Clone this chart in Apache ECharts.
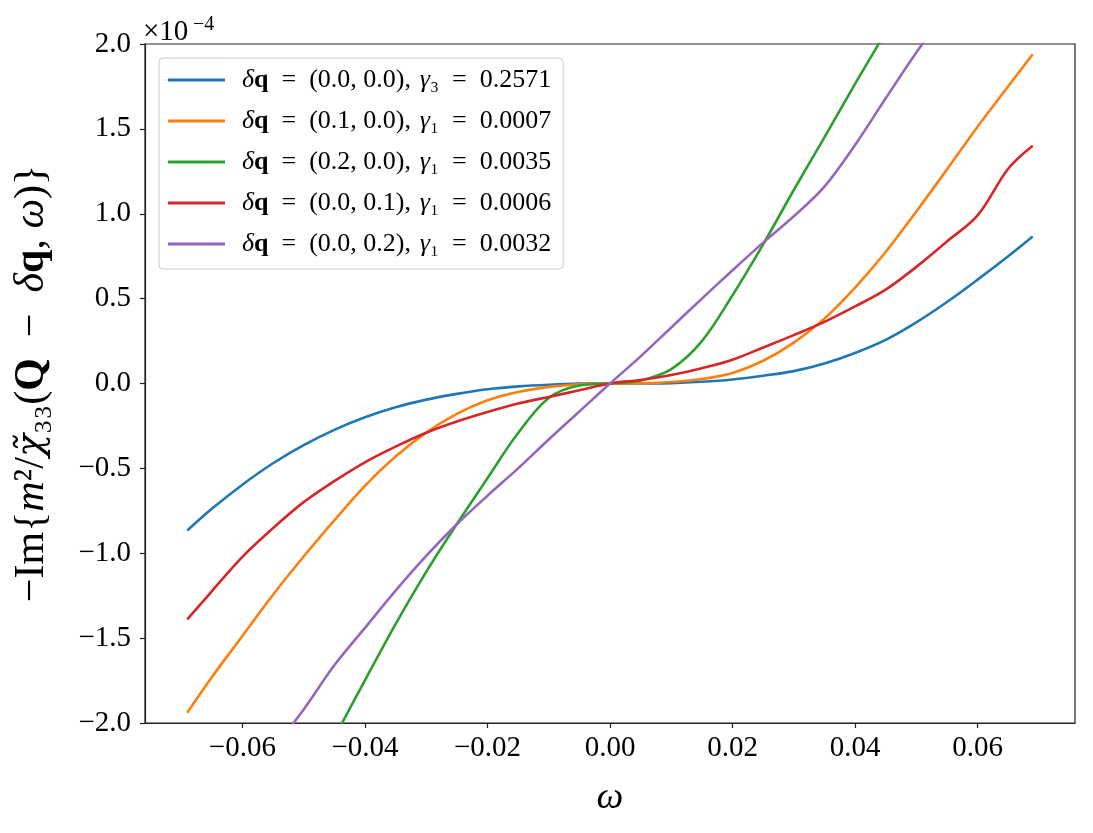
<!DOCTYPE html>
<html>
<head>
<meta charset="utf-8">
<script src="https://cdn.jsdelivr.net/npm/echarts@6/dist/echarts.min.js"></script>
<style>
html,body{margin:0;padding:0;background:#fff;}
#chart{width:1093px;height:833px;}
</style>
</head>
<body>
<div id="chart"></div>
<script>
// omega grid (x values)
const omega = [-0.069, -0.065, -0.06, -0.055, -0.05, -0.045, -0.04, -0.035, -0.03, -0.025, -0.02, -0.015, -0.01, -0.005, 0,
  0.005, 0.01, 0.015, 0.02, 0.025, 0.03, 0.035, 0.04, 0.045, 0.05, 0.055, 0.06, 0.065, 0.069];

// values in units of 1e-4
const blue   = [-0.866, -0.738, -0.596, -0.47, -0.363, -0.273, -0.199, -0.14, -0.095, -0.061, -0.034, -0.017, -0.007, -0.001, 0,
  0.0005, 0.002, 0.01, 0.024, 0.046, 0.073, 0.118, 0.18, 0.257, 0.36, 0.48, 0.612, 0.75, 0.866];
const orange = [-1.94, -1.731, -1.487, -1.244, -1.019, -0.806, -0.603, -0.43, -0.289, -0.179, -0.099, -0.05, -0.02, -0.004, 0,
  0.002, 0.009, 0.026, 0.062, 0.134, 0.241, 0.382, 0.565, 0.775, 1.013, 1.261, 1.513, 1.751, 1.94];
const green  = [null, null, null, null, null, -2.085, -1.749, -1.418, -1.11, -0.828, -0.558, -0.292, -0.085, -0.012, 0,
  0.018, 0.085, 0.25, 0.52, 0.82, 1.14, 1.45, 1.765, 2.07, null, null, null, null, null];
const red    = [-1.39, -1.224, -1.021, -0.852, -0.699, -0.575, -0.464, -0.372, -0.29, -0.224, -0.168, -0.118, -0.079, -0.04, 0,
  0.021, 0.05, 0.09, 0.14, 0.212, 0.285, 0.363, 0.454, 0.553, 0.687, 0.837, 0.99, 1.265, 1.4];
const purple = [null, null, null, -2.155, -1.92, -1.66, -1.44, -1.22, -1.015, -0.829, -0.661, -0.5, -0.33, -0.165, 0,
  0.16, 0.33, 0.5, 0.667, 0.83, 0.985, 1.16, 1.405, 1.68, 1.95, 2.2, null, null, null];

const seriesNames = [
  'δq = (0.0, 0.0), γ₃ = 0.2571',
  'δq = (0.1, 0.0), γ₁ = 0.0007',
  'δq = (0.2, 0.0), γ₁ = 0.0035',
  'δq = (0.0, 0.1), γ₁ = 0.0006',
  'δq = (0.0, 0.2), γ₁ = 0.0032'
];
const SP = '\u2002';
const SP2 = '\u2004';
const legendRich = [
  '{i|δ}{b|q}' + SP + '=' + SP + '(0.0, 0.0),' + SP2 + '{i|γ}₃' + SP + '=' + SP + '0.2571',
  '{i|δ}{b|q}' + SP + '=' + SP + '(0.1, 0.0),' + SP2 + '{i|γ}₁' + SP + '=' + SP + '0.0007',
  '{i|δ}{b|q}' + SP + '=' + SP + '(0.2, 0.0),' + SP2 + '{i|γ}₁' + SP + '=' + SP + '0.0035',
  '{i|δ}{b|q}' + SP + '=' + SP + '(0.0, 0.1),' + SP2 + '{i|γ}₁' + SP + '=' + SP + '0.0006',
  '{i|δ}{b|q}' + SP + '=' + SP + '(0.0, 0.2),' + SP2 + '{i|γ}₁' + SP + '=' + SP + '0.0032'
];
const colors = ['#1f77b4', '#ff7f0e', '#2ca02c', '#d62728', '#9467bd'];
const seriesValues = [blue, orange, green, red, purple];

const xTicks = [-0.06, -0.04, -0.02, 0, 0.02, 0.04, 0.06];

const FONT = '"Liberation Serif", "DejaVu Serif", serif';
const minus = s => s.replace('-', '\u2212');

const chart = echarts.init(document.getElementById('chart'));
chart.setOption({
  animation: false,
  backgroundColor: '#fff',
  textStyle: { fontFamily: FONT },
  grid: { left: 145, right: 18, top: 44, bottom: 110, show: true, borderColor: '#222', borderWidth: 1.2,
    backgroundColor: 'transparent', containLabel: false, outerBoundsMode: 'none' },
  xAxis: {
    type: 'value', min: -0.0759, max: 0.0759,
    name: 'ω', nameLocation: 'middle', nameGap: 56,
    nameTextStyle: { fontFamily: FONT, fontSize: 38, fontStyle: 'italic', color: '#000' },
    axisLine: { show: true, onZero: false, lineStyle: { color: '#222', width: 1.2 } },
    axisTick: { show: true, length: 5, inside: false, lineStyle: { color: '#222', width: 1.2 }, customValues: xTicks },
    axisLabel: { customValues: xTicks, margin: 11, fontFamily: FONT, fontSize: 29, color: '#000',
      formatter: v => minus(Number(v).toFixed(2)) },
    splitLine: { show: false }
  },
  yAxis: {
    type: 'value', min: -2, max: 2, interval: 0.5,
    name: '−Im{{i|m}²/{c|χ̃}₃₃({b|Q}' + SP + '−' + SP + '{i|δ}{b|q}, {i|ω})}',
    nameLocation: 'middle', nameGap: 92, nameRotate: 90,
    nameTextStyle: { fontFamily: FONT, fontSize: 42, color: '#000',
      rich: {
        i: { fontFamily: FONT, fontSize: 42, fontStyle: 'italic', color: '#000' },
        c: { fontFamily: '"DejaVu Serif", serif', fontSize: 38, fontStyle: 'italic', color: '#000' },
        b: { fontFamily: FONT, fontSize: 42, fontWeight: 'bold', color: '#000' }
      } },
    axisLine: { show: true, onZero: false, lineStyle: { color: '#222', width: 1.2 } },
    axisTick: { show: true, length: 5, inside: false, lineStyle: { color: '#222', width: 1.2 } },
    axisLabel: { margin: 14, fontFamily: FONT, fontSize: 29, color: '#000',
      formatter: v => minus(Number(v).toFixed(1)) },
    splitLine: { show: false }
  },
  legend: {
    orient: 'vertical', left: 159, top: 58,
    padding: [7, 12, 10, 9],
    backgroundColor: 'rgba(255,255,255,0.8)',
    borderColor: '#cccccc', borderWidth: 1, borderRadius: 4,
    icon: 'rect', itemWidth: 57, itemHeight: 3, itemGap: 11,
    data: seriesNames,
    formatter: name => legendRich[seriesNames.indexOf(name)],
    textStyle: { fontFamily: FONT, fontSize: 26, color: '#000', lineHeight: 30, padding: [0, 0, 0, 12],
      rich: {
        i: { fontFamily: FONT, fontSize: 26, fontStyle: 'italic', color: '#000' },
        b: { fontFamily: FONT, fontSize: 26, fontWeight: 'bold', color: '#000' }
      } }
  },
  graphic: [
    { type: 'text', left: 143, top: 18, style: { text: '×10', fontFamily: FONT, fontSize: 29, fill: '#000' } },
    { type: 'text', left: 193, top: 15, style: { text: '−4', fontFamily: FONT, fontSize: 20, fill: '#000' } }
  ],
  series: seriesValues.map((vals, k) => ({
    name: seriesNames[k],
    type: 'line',
    data: omega.map((x, j) => [x, vals[j]]),
    showSymbol: false,
    smooth: 0.35,
    connectNulls: false,
    clip: true,
    color: colors[k],
    lineStyle: { width: 2.6, color: colors[k] },
    z: 2 + k
  }))
});
</script>
</body>
</html>
